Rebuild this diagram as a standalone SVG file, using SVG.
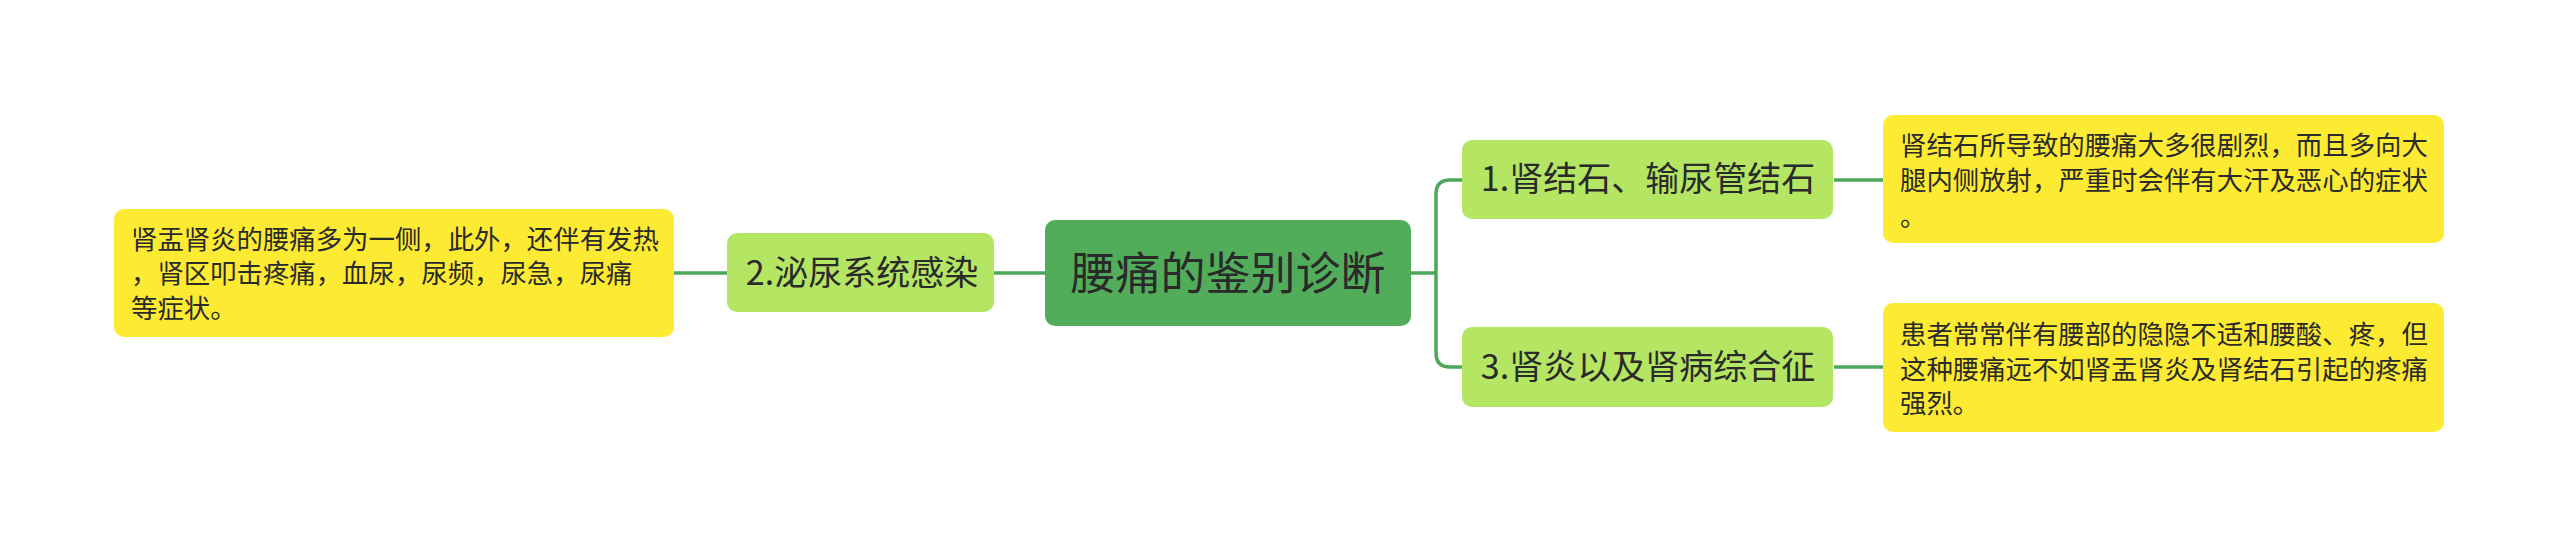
<svg xmlns="http://www.w3.org/2000/svg" width="2560" height="547" viewBox="0 0 2560 547">
<style>
text{font-family:"Noto Sans CJK SC","Noto Sans",sans-serif;fill:#2a2a2a}
.root rect{fill:#52ad5b}
.l1 rect{fill:#b4e563}
.leaf rect{fill:#fdea33}
.root text{font-size:45px;text-anchor:middle}
.l1 text{font-size:34px;text-anchor:middle}
.leaf text{font-size:26.4px}
.conn path{fill:none;stroke:#4ca75a;stroke-width:3.5}
</style>
<rect width="2560" height="547" fill="#ffffff"/>
<g class="conn" id="connectors">
<path d="M674 273H727"/>
<path d="M994 273H1045"/>
<path d="M1411 273H1436"/>
<path d="M1462 180H1450Q1436 180 1436 194V353Q1436 367 1450 367H1462"/>
<path d="M1834 180H1884"/>
<path d="M1834 367H1884"/>
</g>
<g class="root" id="node-root">
<rect x="1045" y="220" width="366" height="106" rx="10"/>
<text x="1228" y="290">腰痛的鉴别诊断</text>
</g>
<g class="l1" id="node-2">
<rect x="727" y="233" width="267" height="79" rx="10"/>
<text x="862" y="285">2.泌尿系统感染</text>
</g>
<g class="l1" id="node-1">
<rect x="1462" y="140" width="371" height="79" rx="10"/>
<text x="1648" y="191">1.肾结石、输尿管结石</text>
</g>
<g class="l1" id="node-3">
<rect x="1462" y="327" width="371" height="80" rx="10"/>
<text x="1648" y="379">3.肾炎以及肾病综合征</text>
</g>
<g class="leaf" id="leaf-2">
<rect x="114" y="209" width="560" height="128" rx="10"/>
<text x="131" y="249">肾盂肾炎的腰痛多为一侧，此外，还伴有发热</text>
<text x="131" y="283">，肾区叩击疼痛，血尿，尿频，尿急，尿痛</text>
<text x="131" y="318">等症状。</text>
</g>
<g class="leaf" id="leaf-1">
<rect x="1883" y="115" width="561" height="128" rx="10"/>
<text x="1900" y="155">肾结石所导致的腰痛大多很剧烈，而且多向大</text>
<text x="1900" y="190">腿内侧放射，严重时会伴有大汗及恶心的症状</text>
<text x="1900" y="226">。</text>
</g>
<g class="leaf" id="leaf-3">
<rect x="1883" y="303" width="561" height="129" rx="10"/>
<text x="1900" y="344">患者常常伴有腰部的隐隐不适和腰酸、疼，但</text>
<text x="1900" y="379">这种腰痛远不如肾盂肾炎及肾结石引起的疼痛</text>
<text x="1900" y="413">强烈。</text>
</g>
</svg>
